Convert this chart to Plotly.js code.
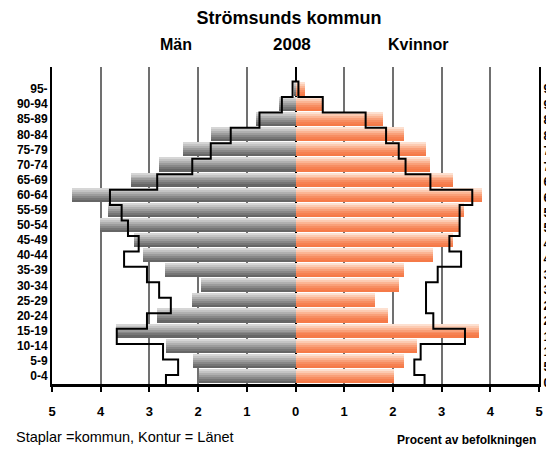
<!DOCTYPE html>
<html>
<head>
<meta charset="utf-8">
<script src="https://cdn.plot.ly/plotly-3.0.1.min.js"></script>
<style>html,body{margin:0;padding:0;background:#fff;}#chart{width:546px;height:450px;}</style>
</head>
<body>
<div id="chart"></div>
<script>
// Age groups, bottom to top
const ageGroups = ["0-4","5-9","10-14","15-19","20-24","25-29","30-34","35-39","40-44","45-49",
                   "50-54","55-59","60-64","65-69","70-74","75-79","80-84","85-89","90-94","95-"];
// Kommun (bars), percent of population
const menKommun   = [1.98,2.10,2.66,3.69,2.84,2.13,1.94,2.68,3.13,3.32,4.01,3.86,4.59,3.38,2.80,2.31,1.74,0.81,0.34,0.04];
const womenKommun = [2.02,2.22,2.49,3.76,1.90,1.63,2.12,2.22,2.82,3.23,3.35,3.47,3.82,3.23,2.76,2.67,2.22,1.79,0.56,0.19];
// Länet (outline), percent of population
const menLan   = [2.66,2.41,2.72,3.67,3.05,2.56,2.80,3.05,3.52,3.22,3.44,3.57,3.81,2.84,2.12,1.74,1.33,0.74,0.28,0.06];
const womenLan = [2.65,2.44,2.57,3.48,2.83,2.68,2.68,2.92,3.40,3.16,3.37,3.37,3.63,2.77,2.26,2.12,1.86,1.44,0.56,0.06];
const xTickVals = [-5,-4,-3,-2,-1,0,1,2,3,4,5];
const xTickText = ["5","4","3","2","1","0","1","2","3","4","5"];

const idx = ageGroups.map((_, i) => i);
const menGrad   = ["#d6d6d6","#c4c4c4","#b0b0b0","#9c9c9c","#888888","#767676","#666666"];
const womenGrad = ["#fde0d0","#fccbb2","#fbb594","#f9a079","#f78e62","#f68152","#f57a48"];
const W = 0.92, N = menGrad.length, bandW = W / N;

const traces = [];
for (let k = 0; k < N; k++) {
  const off = W / 2 - (k + 1) * bandW;
  traces.push({type:"bar", orientation:"h", y: idx, x: menKommun.map(v => -v),
    offset: off, width: bandW + 0.012, marker:{color: menGrad[k], line:{width:0}},
    hoverinfo:"skip", showlegend:false});
  traces.push({type:"bar", orientation:"h", y: idx, x: womenKommun,
    offset: off, width: bandW + 0.012, marker:{color: womenGrad[k], line:{width:0}},
    hoverinfo:"skip", showlegend:false});
}
// Outline (Länet) as a step line
const ox = [], oy = [];
for (let i = 0; i < womenLan.length; i++) { ox.push(womenLan[i]); oy.push(i - 0.5); }
ox.push(womenLan[womenLan.length - 1]); oy.push(womenLan.length - 0.5);
for (let i = menLan.length - 1; i >= 0; i--) { ox.push(-menLan[i]); oy.push(i + 0.5); }
ox.push(-menLan[0]); oy.push(-0.5);
traces.push({type:"scatter", mode:"lines", x: ox, y: oy, yaxis:"y2",
  line:{color:"#000", width:2, shape:"vh"}, hoverinfo:"skip", showlegend:false});

const labFont = {family:"Liberation Sans, Arial, sans-serif", size:12, color:"#000", weight:"bold"};

const layout = {
  width:546, height:450,
  margin:{l:52, r:7, t:67, b:66, pad:0},
  paper_bgcolor:"#fff", plot_bgcolor:"#fff",
  barmode:"overlay", bargap:0,
  showlegend:false,
  title:{text:"Strömsunds kommun", x:289/546, xref:"container", xanchor:"center",
         y:1 - 17.5/450, yref:"container", yanchor:"middle",
         font:{family:"Liberation Sans, Arial, sans-serif", size:18, color:"#000", weight:"bold"}},
  xaxis:{range:[-5,5], tickvals:xTickVals, ticktext:xTickText,
         showgrid:true, gridcolor:"#707070", gridwidth:2,
         zeroline:true, zerolinecolor:"#000", zerolinewidth:2,
         showline:true, linecolor:"#000", linewidth:3,
         ticks:"outside", ticklen:5, tickwidth:2, tickcolor:"#000",
         ticklabelstandoff:8,
         tickfont:{family:"Liberation Sans, Arial, sans-serif", size:13, color:"#000", weight:"bold"},
         fixedrange:true},
  yaxis:{range:[-0.53,20.46], tickvals:idx, ticktext:ageGroups,
         showgrid:false, zeroline:false, showline:true, linecolor:"#000", linewidth:2,
         ticks:"", tickfont:labFont, fixedrange:true},
  yaxis2:{range:[-0.084,20.44], overlaying:"y", side:"right", tickvals:idx, ticktext:ageGroups,
         showgrid:false, zeroline:false, showline:true, linecolor:"#000", linewidth:2,
         ticks:"", tickfont:labFont, fixedrange:true},
  annotations:[
    {text:"Män", xref:"paper", yref:"paper", x:(175.5-52)/487, y:(384-44)/317, xanchor:"center", yanchor:"middle", showarrow:false,
     font:{family:"Liberation Sans, Arial, sans-serif", size:16, color:"#000", weight:"bold"}},
    {text:"2008", xref:"paper", yref:"paper", x:(291.5-52)/487, y:(384-44)/317, xanchor:"center", yanchor:"middle", showarrow:false,
     font:{family:"Liberation Sans, Arial, sans-serif", size:17, color:"#000", weight:"bold"}},
    {text:"Kvinnor", xref:"paper", yref:"paper", x:(417.5-52)/487, y:(384-44)/317, xanchor:"center", yanchor:"middle", showarrow:false,
     font:{family:"Liberation Sans, Arial, sans-serif", size:16, color:"#000", weight:"bold"}},
    {text:"Staplar =kommun, Kontur = Länet", xref:"paper", yref:"paper", x:(14-52)/487, y:(384-437)/317, xanchor:"left", yanchor:"middle", showarrow:false,
     font:{family:"Liberation Sans, Arial, sans-serif", size:14.5, color:"#000"}},
    {text:"Procent av befolkningen", xref:"paper", yref:"paper", x:(538-52)/487, y:(384-440)/317, xanchor:"right", yanchor:"middle", showarrow:false,
     font:{family:"Liberation Sans, Arial, sans-serif", size:12, color:"#000", weight:"bold"}}
  ]
};
Plotly.newPlot("chart", traces, layout, {displayModeBar:false, staticPlot:true});
</script>
</body>
</html>
